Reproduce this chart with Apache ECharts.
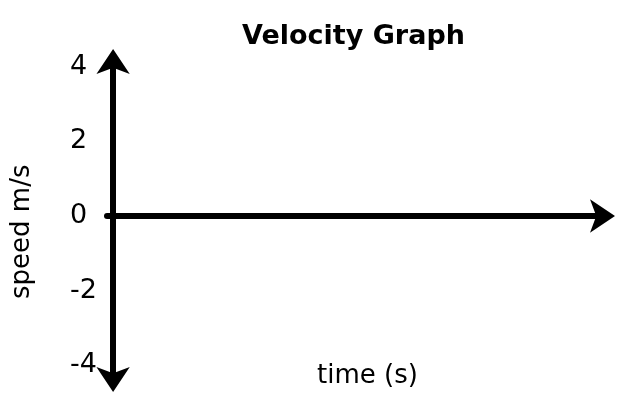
<!DOCTYPE html>
<html>
<head>
<meta charset="utf-8">
<script src="https://cdn.jsdelivr.net/npm/echarts@6/dist/echarts.min.js"></script>
<style>
html, body { margin: 0; padding: 0; background: #fff; }
#main { width: 621px; height: 402px; }
</style>
</head>
<body>
<div id="main"></div>
<script>
// axis labels / data
var chartTitle = 'Velocity Graph';
var xName = 'time (s)';
var yName = 'speed m/s';
var speedTicks = [-4, -2, 0, 2, 4];
var speedRange = [-4.3, 4.1];   // axis line runs a bit past the last ticks, into the arrow heads
var timeRange = [-0.1, 8];

var chart = echarts.init(document.getElementById('main'), null, {renderer: 'canvas'});
var font = 'DejaVu Sans';
var option = {
  animation: false,
  backgroundColor: '#fff',
  title: [{
    text: chartTitle,
    left: 242,
    top: 23,
    padding: 0,
    textStyle: {fontFamily: font, fontWeight: 'bold', fontSize: 27, color: '#000'}
  }, {
    // x axis name, placed as in the picture
    text: xName,
    left: 317,
    top: 363,
    padding: 0,
    textStyle: {fontFamily: font, fontWeight: 'normal', fontSize: 26, color: '#000'}
  }],
  grid: {left: 107, right: 21, top: 63.07, bottom: 25.6, containLabel: false, outerBoundsMode: 'none'},
  xAxis: {
    type: 'value',
    min: timeRange[0],
    max: timeRange[1],
    axisLine: {
      show: true,
      onZero: true,
      symbol: ['none', 'arrow'],
      symbolSize: [25, 25],
      symbolOffset: [0, 15],
      lineStyle: {color: '#000', width: 6}
    },
    axisTick: {show: false},
    axisLabel: {show: false},
    splitLine: {show: false}
  },
  yAxis: {
    type: 'value',
    min: speedRange[0],
    max: speedRange[1],
    name: yName,
    nameLocation: 'middle',
    nameRotate: 90,
    nameGap: 72,
    nameTextStyle: {fontFamily: font, fontSize: 26, color: '#000', padding: [0, 24, 0, 0]},
    axisLine: {
      show: true,
      onZero: true,
      symbol: ['arrow', 'arrow'],
      symbolSize: [25, 25],
      symbolOffset: [-15.6, 14.07],
      lineStyle: {color: '#000', width: 6}
    },
    axisTick: {show: false},
    axisLabel: {
      show: true,
      customValues: speedTicks,
      align: 'left',
      margin: 37,
      fontFamily: font,
      fontSize: 27,
      color: '#000'
    },
    splitLine: {show: false}
  },
  series: []
};
chart.setOption(option);
</script>
</body>
</html>
